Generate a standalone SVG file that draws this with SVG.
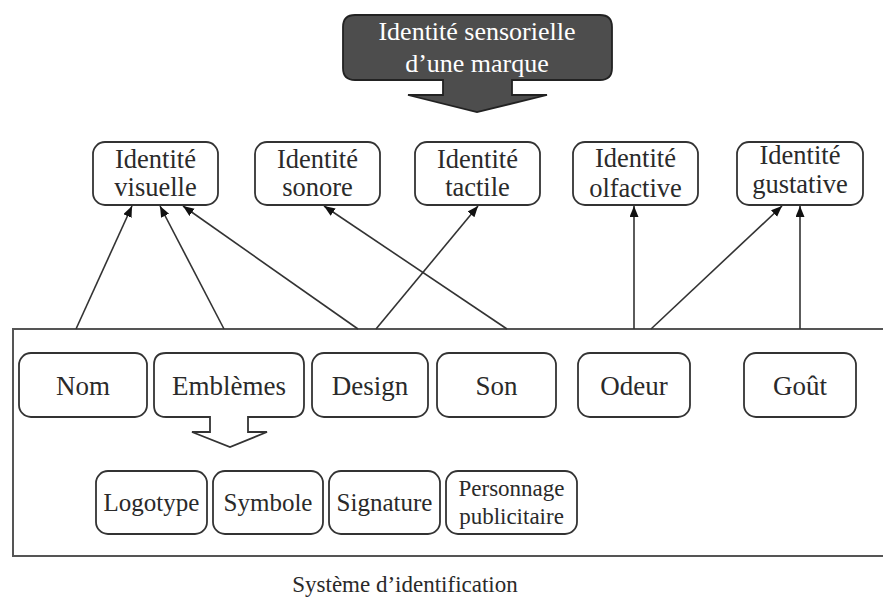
<svg xmlns="http://www.w3.org/2000/svg" width="883" height="599" viewBox="0 0 883 599">
<defs>
<marker id="ah" markerUnits="userSpaceOnUse" markerWidth="12" markerHeight="10" refX="11" refY="4.5" orient="auto">
<path d="M0,0 L11,4.5 L0,9 Z" fill="#111"/>
</marker>
<style>
.box{fill:#fff;stroke:#333;stroke-width:1.8}
.t{font-family:"Liberation Serif","Times New Roman",serif;fill:#2a2a2a;text-anchor:middle}
.top{font-size:26.5px}
.mid{font-size:27px}
.bot{font-size:25px}
.per{font-size:23px}
.con{stroke:#333;stroke-width:1.6;fill:none;marker-end:url(#ah)}
</style>
</defs>
<rect width="883" height="599" fill="#fff"/>

<g id="systeme">
<rect x="13" y="329" width="880" height="227" fill="none" stroke="#555" stroke-width="2"/>
<text class="t" x="405" y="592" font-size="23">Système d’identification</text>
</g>

<g id="identite-sensorielle">
<path d="M355,15 H600 Q612,15 612,27 V68 Q612,80 600,80 H512 V95 H547 L477,112 L408,95 H443 V80 H355 Q343,80 343,68 V27 Q343,15 355,15 Z" fill="#4d4d4d" stroke="#222" stroke-width="1.8"/>
<text class="t" x="477" y="40" font-size="26" style="fill:#fff">Identité sensorielle</text>
<text class="t" x="477" y="72" font-size="26" style="fill:#fff">d’une marque</text>
</g>

<g id="id-visuelle"><rect class="box" x="93" y="142" width="125" height="63" rx="12"/><text class="t top" x="155.5" y="168">Identité</text><text class="t top" x="155.5" y="196">visuelle</text></g>
<g id="id-sonore"><rect class="box" x="255" y="142" width="125" height="63" rx="12"/><text class="t top" x="317.5" y="168">Identité</text><text class="t top" x="317.5" y="196">sonore</text></g>
<g id="id-tactile"><rect class="box" x="415" y="142" width="125" height="63" rx="12"/><text class="t top" x="477.5" y="168">Identité</text><text class="t top" x="477.5" y="196">tactile</text></g>
<g id="id-olfactive"><rect class="box" x="573" y="142" width="125" height="63" rx="12"/><text class="t top" x="635.5" y="167">Identité</text><text class="t top" x="635.5" y="197">olfactive</text></g>
<g id="id-gustative"><rect class="box" x="737" y="142" width="126" height="63" rx="12"/><text class="t top" x="800" y="164">Identité</text><text class="t top" x="800" y="193">gustative</text></g>

<g id="nom"><rect class="box" x="19" y="353" width="128" height="64" rx="12"/><text class="t mid" x="83" y="395">Nom</text></g>
<g id="emblemes"><path class="box" d="M166,353 H292 Q304,353 304,365 V405 Q304,417 292,417 H248 V432 H267 L230,447 L192,432 H210 V417 H166 Q154,417 154,405 V365 Q154,353 166,353 Z"/><text class="t mid" x="229" y="395">Emblèmes</text></g>
<g id="design"><rect class="box" x="312" y="353" width="116" height="64" rx="12"/><text class="t mid" x="370" y="395">Design</text></g>
<g id="son"><rect class="box" x="437" y="353" width="119" height="64" rx="12"/><text class="t mid" x="496.5" y="395">Son</text></g>
<g id="odeur"><rect class="box" x="578" y="353" width="112" height="64" rx="12"/><text class="t mid" x="634" y="395">Odeur</text></g>
<g id="gout"><rect class="box" x="744" y="353" width="112" height="64" rx="12"/><text class="t mid" x="800" y="395">Goût</text></g>

<g id="logotype"><rect class="box" x="96" y="471" width="111" height="63" rx="12"/><text class="t bot" x="151.5" y="511">Logotype</text></g>
<g id="symbole"><rect class="box" x="213" y="471" width="110" height="63" rx="12"/><text class="t bot" x="268" y="511">Symbole</text></g>
<g id="signature"><rect class="box" x="329" y="471" width="111" height="63" rx="12"/><text class="t bot" x="384.5" y="511">Signature</text></g>
<g id="personnage"><rect class="box" x="446" y="471" width="131" height="63" rx="12"/><text class="t per" x="511.5" y="496">Personnage</text><text class="t per" x="511.5" y="524">publicitaire</text></g>

<g id="connectors">
<line class="con" x1="76" y1="329" x2="132" y2="206"/>
<line class="con" x1="224" y1="329" x2="160" y2="206"/>
<line class="con" x1="358" y1="329" x2="183" y2="206"/>
<line class="con" x1="376" y1="329" x2="478" y2="206"/>
<line class="con" x1="507" y1="329" x2="324" y2="206"/>
<line class="con" x1="634" y1="329" x2="634" y2="206"/>
<line class="con" x1="651" y1="329" x2="782" y2="206"/>
<line class="con" x1="800" y1="329" x2="800" y2="206"/>
</g>
</svg>
